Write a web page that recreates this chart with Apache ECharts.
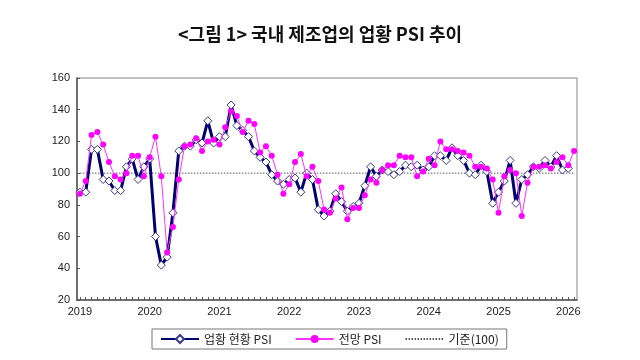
<!DOCTYPE html>
<html>
<head>
<meta charset="utf-8">
<script src="https://cdn.jsdelivr.net/npm/echarts@6/dist/echarts.min.js"></script>
<style>
html,body{margin:0;padding:0;background:#fff;}
#c{width:640px;height:360px;}
</style>
</head>
<body>
<div id="c"></div>
<script>
// Year tick labels (January of each year)
const yearLabels = ['2019','2020','2021','2022','2023','2024','2025','2026'];
const monthsInLastYear = 2; // data runs to 2026-02

// 업황 현황 PSI (monthly, 2019-01 .. 2026-01)
const currentPSI = [
  88, 88, 115, 115, 96, 95, 89, 89, 104, 109, 96, 104,
  109, 60, 42, 47, 75, 114, 117, 117, 121, 119, 133, 119,
  123, 123, 143, 130, 127, 123, 114, 110, 107, 99, 95, 93,
  96, 97, 88, 100, 96, 77, 73, 76, 87, 82, 76, 79,
  81, 92, 104, 98, 102, 101, 99, 101, 105, 104, 105, 102,
  104, 111, 111, 108, 116, 111, 108, 100, 99, 105, 101, 81,
  88, 95, 108, 81, 96, 99, 104, 103, 108, 104, 111, 102,
  103
];

// 전망 PSI (monthly, 2019-01 .. 2026-02)
const outlookPSI = [
  87, 95, 124, 126, 118, 107, 98, 96, 100, 111, 111, 98,
  110, 123, 98, 50, 66, 96, 117, 118, 122, 114, 120, 121,
  118, 129, 139, 136, 126, 133, 131, 113, 117, 111, 99, 87,
  93, 107, 112, 98, 104, 95, 77, 75, 84, 91, 71, 78,
  78, 86, 96, 94, 102, 105, 105, 111, 110, 110, 98, 101,
  109, 105, 120, 115, 115, 114, 113, 111, 104, 104, 103, 96,
  75, 98, 102, 100, 73, 94, 104, 104, 105, 103, 107, 110,
  105, 114
];

const baseValue = 100; // 기준(100)

// Build month categories
const categories = [];
yearLabels.forEach((y, yi) => {
  const n = (yi === yearLabels.length - 1) ? monthsInLastYear : 12;
  for (let m = 1; m <= n; m++) categories.push(y + '-' + (m < 10 ? '0' + m : m));
});
const baseline = categories.map(() => baseValue);

const chart = echarts.init(document.getElementById('c'), null, {renderer: 'canvas'});
const font = '"Liberation Sans", Arial, "Noto Sans CJK KR", sans-serif';
chart.setOption({
  animation: false,
  backgroundColor: '#ffffff',
  title: {
    text: '<그림 1> 국내 제조업의 업황 PSI 추이',
    left: 'center',
    top: 20,
    textStyle: {
      fontFamily: '"Noto Sans CJK KR", sans-serif',
      fontSize: 18,
      fontWeight: 'bold',
      color: '#111'
    }
  },
  legend: {
    left: 152,
    top: 329,
    itemWidth: 38,
    itemHeight: 10,
    itemGap: 23,
    padding: [4, 8, 4, 8],
    borderColor: '#777',
    borderWidth: 1,
    textStyle: {fontFamily: '"Noto Sans CJK KR", sans-serif', fontSize: 12, color: '#222'},
    data: ['업황 현황 PSI', '전망 PSI', '기준(100)']
  },
  grid: {
    left: 77, right: 63, top: 78, bottom: 60,
    show: true, borderColor: '#b0b0b0', borderWidth: 1.5, backgroundColor: 'transparent'
  },
  xAxis: {
    type: 'category',
    data: categories,
    boundaryGap: true,
    axisLine: {lineStyle: {color: '#555', width: 1.5}},
    axisTick: {show: true, inside: true, length: 3, interval: 0, alignWithLabel: true, lineStyle: {color: '#555'}},
    axisLabel: {
      interval: 0,
      margin: 6,
      fontFamily: font, fontSize: 11, color: '#222',
      formatter: (v) => v.endsWith('-01') ? v.slice(0, 4) : ''
    },
    splitLine: {show: false}
  },
  yAxis: {
    type: 'value',
    min: 20, max: 160, interval: 20,
    axisLine: {show: true, lineStyle: {color: '#555', width: 1.5}},
    axisTick: {show: true, inside: true, length: 3, lineStyle: {color: '#555'}},
    axisLabel: {margin: 7, fontFamily: font, fontSize: 11, color: '#222'},
    splitLine: {show: false}
  },
  series: [
    {
      name: '기준(100)',
      type: 'line',
      data: baseline,
      symbol: 'none',
      lineStyle: {color: '#555', width: 1, type: [1.5, 1.5]},
      itemStyle: {color: 'rgba(0,0,0,0)', borderWidth: 0},
      z: 1,
      silent: true
    },
    {
      name: '업황 현황 PSI',
      type: 'line',
      data: currentPSI,
      symbol: 'diamond',
      symbolSize: 8,
      lineStyle: {color: '#000070', width: 3},
      itemStyle: {color: '#ffffff', borderColor: '#3a3a8c', borderWidth: 1},
      z: 2
    },
    {
      name: '전망 PSI',
      type: 'line',
      data: outlookPSI,
      symbol: 'circle',
      symbolSize: 6,
      lineStyle: {color: '#ff33ff', width: 1},
      itemStyle: {color: '#ff00ff'},
      z: 3
    }
  ]
});
</script>
</body>
</html>
